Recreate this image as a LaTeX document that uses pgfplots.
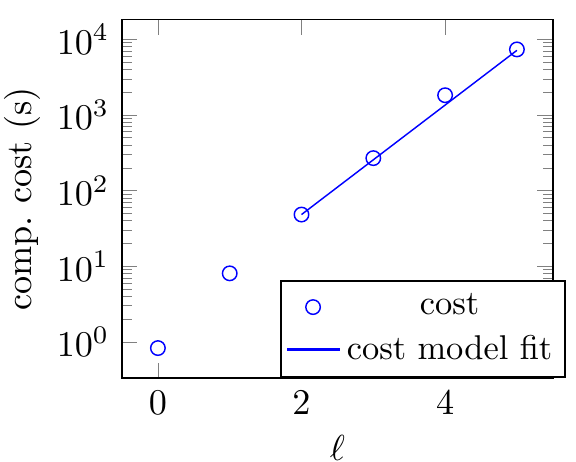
\documentclass[border=0pt]{standalone}
\usepackage{pgfplots}
\pgfplotsset{compat=1.18}
\begin{document}
\begin{tikzpicture}
\useasboundingbox (-33.7pt,-23.2pt) rectangle (125.4pt,104.4pt);
\begin{semilogyaxis}[
  scale only axis,
  width=119pt, height=99pt,
  xlabel={$\ell$},
  ylabel={comp.\ cost (s)},
  xlabel shift=-1pt,
  ylabel shift=-2.5pt,
  xtick={0,2,4},
  ytick={1,10,100,1000,10000},
  legend style={at={(1.03,0)}, anchor=south east,
    font=\fontsize{9.5}{11}\selectfont, inner sep=1.5pt},
]
\addplot[color=blue, only marks, mark=o,
  legend image code/.code={%
    \draw[blue, mark repeat=2, mark phase=2]
      plot coordinates {(0cm,0cm) (0.25cm,0cm) (0.5cm,0cm)};}]
  coordinates {
  (0,0.83) (1,8.07) (2,48.3) (3,269) (4,1825) (5,7360)
};
\addlegendentry{cost}
\addplot[color=blue, mark=none,
  legend image code/.code={%
    \fill[blue] (0cm,-0.22pt) rectangle (0.5cm,0.22pt);}]
  coordinates {
  (2,48.3) (3,255.6) (4,1352) (5,7155)
};
\addlegendentry{cost model fit}
\end{semilogyaxis}
\end{tikzpicture}
\end{document}
